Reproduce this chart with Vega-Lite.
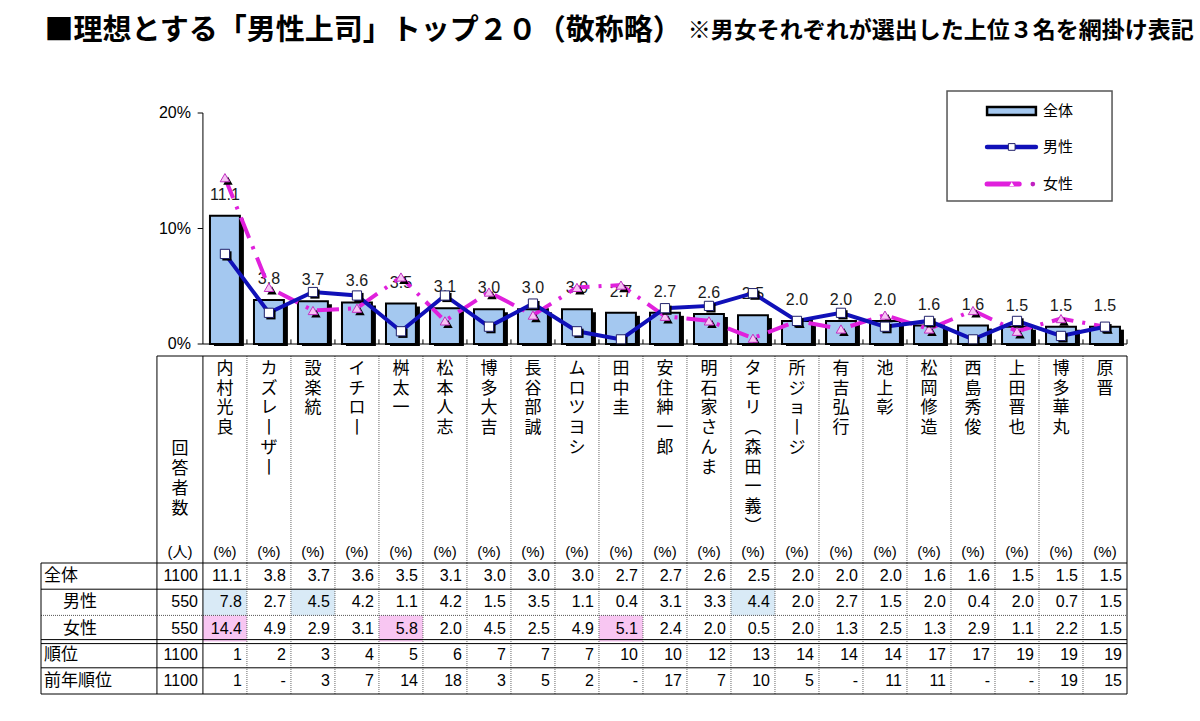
{
  "$schema": "https://vega.github.io/schema/vega-lite/v6.json",
  "background": "white",
  "padding": {"left": 40, "top": 16, "right": 5, "bottom": 5},
  "config": {
    "view": {"stroke": null},
    "font": "Liberation Sans, Noto Sans CJK JP",
    "text": {"color": "#000000"}
  },
  "datasets": {
    "people": [
      {"氏名": "内村光良", "全体": 11.1, "男性": 7.8, "女性": 14.4, "順位": 1, "前年順位": 1},
      {"氏名": "カズレーザー", "全体": 3.8, "男性": 2.7, "女性": 4.9, "順位": 2, "前年順位": null},
      {"氏名": "設楽統", "全体": 3.7, "男性": 4.5, "女性": 2.9, "順位": 3, "前年順位": 3},
      {"氏名": "イチロー", "全体": 3.6, "男性": 4.2, "女性": 3.1, "順位": 4, "前年順位": 7},
      {"氏名": "桝太一", "全体": 3.5, "男性": 1.1, "女性": 5.8, "順位": 5, "前年順位": 14},
      {"氏名": "松本人志", "全体": 3.1, "男性": 4.2, "女性": 2.0, "順位": 6, "前年順位": 18},
      {"氏名": "博多大吉", "全体": 3.0, "男性": 1.5, "女性": 4.5, "順位": 7, "前年順位": 3},
      {"氏名": "長谷部誠", "全体": 3.0, "男性": 3.5, "女性": 2.5, "順位": 7, "前年順位": 5},
      {"氏名": "ムロツヨシ", "全体": 3.0, "男性": 1.1, "女性": 4.9, "順位": 7, "前年順位": 2},
      {"氏名": "田中圭", "全体": 2.7, "男性": 0.4, "女性": 5.1, "順位": 10, "前年順位": null},
      {"氏名": "安住紳一郎", "全体": 2.7, "男性": 3.1, "女性": 2.4, "順位": 10, "前年順位": 17},
      {"氏名": "明石家さんま", "全体": 2.6, "男性": 3.3, "女性": 2.0, "順位": 12, "前年順位": 7},
      {"氏名": "タモリ（森田一義）", "全体": 2.5, "男性": 4.4, "女性": 0.5, "順位": 13, "前年順位": 10},
      {"氏名": "所ジョージ", "全体": 2.0, "男性": 2.0, "女性": 2.0, "順位": 14, "前年順位": 5},
      {"氏名": "有吉弘行", "全体": 2.0, "男性": 2.7, "女性": 1.3, "順位": 14, "前年順位": null},
      {"氏名": "池上彰", "全体": 2.0, "男性": 1.5, "女性": 2.5, "順位": 14, "前年順位": 11},
      {"氏名": "松岡修造", "全体": 1.6, "男性": 2.0, "女性": 1.3, "順位": 17, "前年順位": 11},
      {"氏名": "西島秀俊", "全体": 1.6, "男性": 0.4, "女性": 2.9, "順位": 17, "前年順位": null},
      {"氏名": "上田晋也", "全体": 1.5, "男性": 2.0, "女性": 1.1, "順位": 19, "前年順位": null},
      {"氏名": "博多華丸", "全体": 1.5, "男性": 0.7, "女性": 2.2, "順位": 19, "前年順位": 19},
      {"氏名": "原晋", "全体": 1.5, "男性": 1.5, "女性": 1.5, "順位": 19, "前年順位": 15}
    ],
    "rows": [
      {"項目": "全体", "回答者数": 1100},
      {"項目": "男性", "回答者数": 550},
      {"項目": "女性", "回答者数": 550},
      {"項目": "順位", "回答者数": 1100},
      {"項目": "前年順位", "回答者数": 1100}
    ],
    "yticks": [{"v": 0}, {"v": 10}, {"v": 20}]
  },
  "bounds": "flush",
  "spacing": 12,
  "vconcat": [
    {
      "width": 1086,
      "height": 231,
      "layer": [
        {
          "data": {"name": "people"},
          "transform": [
            {"window": [{"op": "row_number", "as": "n"}]},
            {"calculate": "datum.n - 0.5", "as": "xc"},
            {"calculate": "datum.n - 0.84", "as": "xb0"},
            {"calculate": "datum.n - 0.16", "as": "xb1"}
          ],
          "layer": [
            {
              "mark": {"type": "bar", "fill": "#000000", "xOffset": 4, "x2Offset": 4, "yOffset": 3, "y2Offset": 2},
              "encoding": {
                "x": {"field": "xb0", "type": "quantitative", "scale": {"domain": [-3.68, 21], "nice": false, "zero": false}, "axis": null},
                "x2": {"field": "xb1"},
                "y": {"field": "全体", "type": "quantitative", "scale": {"domain": [0, 20], "nice": false, "zero": false}, "axis": null},
                "y2": {"datum": 0}
              }
            },
            {
              "mark": {"type": "bar", "fill": "#a4c8f0", "stroke": "#000000", "strokeWidth": 2},
              "encoding": {
                "x": {"field": "xb0", "type": "quantitative", "axis": null},
                "x2": {"field": "xb1"},
                "y": {"field": "全体", "type": "quantitative", "axis": null},
                "y2": {"datum": 0}
              }
            },
            {
              "mark": {"type": "text", "fontSize": 16, "dy": -21, "color": "#1a1a1a"},
              "encoding": {
                "x": {"field": "xc", "type": "quantitative", "axis": null},
                "y": {"field": "全体", "type": "quantitative", "axis": null},
                "text": {"field": "全体", "type": "quantitative", "format": ".1f"}
              }
            },
            {
              "mark": {"type": "line", "stroke": "#e020dc", "strokeWidth": 4, "strokeDash": [22, 9, 3, 9]},
              "encoding": {
                "x": {"field": "xc", "type": "quantitative", "axis": null},
                "y": {"field": "女性", "type": "quantitative", "axis": null}
              }
            },
            {
              "mark": {"type": "point", "shape": "triangle-up", "filled": true, "fill": "#000000", "size": 90, "xOffset": 3, "yOffset": 3, "opacity": 1},
              "encoding": {
                "x": {"field": "xc", "type": "quantitative", "axis": null},
                "y": {"field": "女性", "type": "quantitative", "axis": null}
              }
            },
            {
              "mark": {"type": "point", "shape": "triangle-up", "filled": true, "fill": "#f6c4f4", "stroke": "#c030c0", "strokeWidth": 1, "size": 90, "opacity": 1},
              "encoding": {
                "x": {"field": "xc", "type": "quantitative", "axis": null},
                "y": {"field": "女性", "type": "quantitative", "axis": null}
              }
            },
            {
              "mark": {"type": "line", "stroke": "#1010b8", "strokeWidth": 4},
              "encoding": {
                "x": {"field": "xc", "type": "quantitative", "axis": null},
                "y": {"field": "男性", "type": "quantitative", "axis": null}
              }
            },
            {
              "mark": {"type": "point", "shape": "square", "filled": true, "fill": "#000000", "size": 85, "xOffset": 2, "yOffset": 2, "opacity": 1},
              "encoding": {
                "x": {"field": "xc", "type": "quantitative", "axis": null},
                "y": {"field": "男性", "type": "quantitative", "axis": null}
              }
            },
            {
              "mark": {"type": "point", "shape": "square", "filled": true, "fill": "#ffffff", "stroke": "#20206a", "strokeWidth": 1, "size": 85, "opacity": 1},
              "encoding": {
                "x": {"field": "xc", "type": "quantitative", "axis": null},
                "y": {"field": "男性", "type": "quantitative", "axis": null}
              }
            },
            {
              "mark": {"type": "rule", "color": "#000000", "strokeWidth": 1},
              "encoding": {
                "x": {"field": "n", "type": "quantitative", "axis": null},
                "y": {"datum": 0, "axis": null},
                "y2": {"datum": 0.4}
              }
            }
          ]
        },
        {
          "data": {"name": "yticks"},
          "transform": [{"calculate": "datum.v + '%'", "as": "lab"}],
          "layer": [
            {
              "mark": {"type": "rule", "color": "#000000", "strokeWidth": 1},
              "encoding": {"x": {"datum": -0.12, "axis": null}, "x2": {"datum": 0}, "y": {"field": "v", "type": "quantitative", "axis": null}}
            },
            {
              "mark": {"type": "text", "align": "right", "baseline": "middle", "dx": -12, "fontSize": 16},
              "encoding": {"x": {"datum": 0, "axis": null}, "y": {"field": "v", "type": "quantitative", "axis": null}, "text": {"field": "lab"}}
            }
          ]
        },
        {
          "data": {"values": [{}]},
          "layer": [
            {
              "mark": {"type": "rule", "color": "#000000", "strokeWidth": 1},
              "encoding": {"x": {"datum": 0, "axis": null}, "y": {"datum": 0, "axis": null}, "y2": {"datum": 20}}
            },
            {
              "mark": {"type": "rule", "color": "#000000", "strokeWidth": 1},
              "encoding": {"x": {"datum": 0, "axis": null}, "x2": {"datum": 21}, "y": {"datum": 0, "axis": null}}
            },
            {
              "mark": {"type": "rect", "fill": "#ffffff", "stroke": "#555555", "strokeWidth": 1.5},
              "encoding": {"x": {"datum": 16.91, "axis": null}, "x2": {"datum": 20.66}, "y": {"datum": 21.9, "axis": null}, "y2": {"datum": 12.38}}
            },
            {
              "mark": {"type": "rect", "fill": "#a4c8f0", "stroke": "#000000", "strokeWidth": 2.5},
              "encoding": {"x": {"datum": 17.82, "axis": null}, "x2": {"datum": 18.93}, "y": {"datum": 20.52, "axis": null}, "y2": {"datum": 19.83}}
            },
            {
              "mark": {"type": "rule", "color": "#1010b8", "strokeWidth": 4.5, "strokeCap": "round"},
              "encoding": {"x": {"datum": 17.82, "axis": null}, "x2": {"datum": 18.93}, "y": {"datum": 17.06, "axis": null}}
            },
            {
              "mark": {"type": "point", "shape": "square", "filled": true, "fill": "#ffffff", "stroke": "#20206a", "strokeWidth": 1, "size": 45, "opacity": 1},
              "encoding": {"x": {"datum": 18.38, "axis": null}, "y": {"datum": 17.06, "axis": null}}
            },
            {
              "mark": {"type": "rule", "color": "#e020dc", "strokeWidth": 5, "strokeCap": "round"},
              "encoding": {"x": {"datum": 17.82, "axis": null}, "x2": {"datum": 18.55}, "y": {"datum": 13.85, "axis": null}}
            },
            {
              "mark": {"type": "point", "shape": "triangle-up", "filled": true, "fill": "#ffffff", "size": 22, "opacity": 1},
              "encoding": {"x": {"datum": 18.38, "axis": null}, "y": {"datum": 13.85, "axis": null}}
            },
            {
              "mark": {"type": "point", "shape": "circle", "filled": true, "fill": "#c020c0", "size": 22, "opacity": 1},
              "encoding": {"x": {"datum": 18.86, "axis": null}, "y": {"datum": 13.85, "axis": null}}
            },
            {
              "mark": {"type": "text", "align": "left", "baseline": "middle", "fontSize": 15, "font": "Noto Sans CJK JP"},
              "encoding": {"x": {"datum": 19.09, "axis": null}, "y": {"datum": 20.17, "axis": null}, "text": {"value": "全体"}}
            },
            {
              "mark": {"type": "text", "align": "left", "baseline": "middle", "fontSize": 15, "font": "Noto Sans CJK JP"},
              "encoding": {"x": {"datum": 19.09, "axis": null}, "y": {"datum": 17.06, "axis": null}, "text": {"value": "男性"}}
            },
            {
              "mark": {"type": "text", "align": "left", "baseline": "middle", "fontSize": 15, "font": "Noto Sans CJK JP"},
              "encoding": {"x": {"datum": 19.09, "axis": null}, "y": {"datum": 13.85, "axis": null}, "text": {"value": "女性"}}
            },
            {
              "mark": {"type": "text", "align": "left", "baseline": "middle", "fontSize": 29, "fontWeight": "bold", "font": "Noto Sans CJK JP"},
              "encoding": {"x": {"datum": -3.6, "axis": null}, "y": {"datum": 27.1, "axis": null}, "text": {"value": "■理想とする「男性上司」トップ２０（敬称略）"}}
            },
            {
              "mark": {"type": "text", "align": "left", "baseline": "middle", "fontSize": 23, "fontWeight": "bold", "font": "Noto Sans CJK JP"},
              "encoding": {"x": {"datum": 11.02, "axis": null}, "y": {"datum": 27.1, "axis": null}, "text": {"value": "※男女それぞれが選出した上位３名を網掛け表記"}}
            }
          ]
        }
      ]
    },
    {
      "bounds": "flush",
      "spacing": 0,
      "vconcat": [
        {
          "width": 1086,
          "height": 207,
          "layer": [
            {
              "data": {"name": "people"},
              "transform": [
                {"window": [{"op": "row_number", "as": "n"}]},
                {"calculate": "datum.n - 0.5", "as": "xc"},
                {"calculate": "split(replace(replace(replace(datum['氏名'], regexp('ー', 'g'), '丨'), '（', '︵'), '）', '︶'), '')", "as": "chars"}
              ],
              "layer": [
                {
                  "mark": {"type": "text", "baseline": "top", "fontSize": 17, "lineHeight": 19.7, "dy": 5, "font": "Noto Sans CJK JP", "color": "#000000"},
                  "encoding": {
                    "x": {"field": "xc", "type": "quantitative", "scale": {"domain": [-3.68, 21], "nice": false, "zero": false}, "axis": null},
                    "y": {"datum": 1, "scale": {"domain": [0, 1], "nice": false, "zero": false}, "axis": null},
                    "text": {"field": "chars"}
                  }
                },
                {
                  "mark": {"type": "text", "baseline": "bottom", "fontSize": 15, "dy": -3},
                  "encoding": {
                    "x": {"field": "xc", "type": "quantitative", "axis": null},
                    "y": {"datum": 0, "axis": null},
                    "text": {"value": "(%)"}
                  }
                },
                {
                  "transform": [{"filter": "datum.n < 21"}],
                  "mark": {"type": "rule", "color": "#666666", "strokeWidth": 1, "strokeDash": [1, 1]},
                  "encoding": {"x": {"field": "n", "type": "quantitative", "axis": null}}
                }
              ]
            },
            {
              "data": {"values": [{"t": "回答者数"}]},
              "transform": [{"calculate": "split(datum.t, '')", "as": "c"}],
              "layer": [
                {
                  "mark": {"type": "text", "baseline": "middle", "fontSize": 17, "lineHeight": 20, "font": "Noto Sans CJK JP"},
                  "encoding": {"x": {"datum": -0.52, "axis": null}, "y": {"datum": 0.55, "axis": null}, "text": {"field": "c"}}
                },
                {
                  "mark": {"type": "text", "baseline": "bottom", "fontSize": 15, "dy": -3},
                  "encoding": {"x": {"datum": -0.52, "axis": null}, "y": {"datum": 0, "axis": null}, "text": {"value": "(人)"}}
                },
                {
                  "mark": {"type": "rule", "color": "#000000", "strokeWidth": 1},
                  "encoding": {"x": {"datum": -1.045, "axis": null}, "x2": {"datum": 21}, "y": {"datum": 1, "axis": null}}
                },
                {"mark": {"type": "rule", "color": "#000000", "strokeWidth": 1}, "encoding": {"x": {"datum": -1.045, "axis": null}}},
                {"mark": {"type": "rule", "color": "#000000", "strokeWidth": 1}, "encoding": {"x": {"datum": 0, "axis": null}}},
                {"mark": {"type": "rule", "color": "#000000", "strokeWidth": 1}, "encoding": {"x": {"datum": 21, "axis": null}}}
              ]
            }
          ]
        },
        {
          "width": 1086,
          "height": 131,
          "layer": [
            {
              "data": {"name": "people"},
              "transform": [{"window": [{"op": "row_number", "as": "n"}]}, {"calculate": "datum.n - 1", "as": "n0"}],
              "layer": [
                {
                  "transform": [
                    {"window": [{"op": "rank", "as": "rk"}], "sort": [{"field": "男性", "order": "descending"}]},
                    {"filter": "datum.rk <= 3"},
                    {"calculate": "'男性'", "as": "row"}
                  ],
                  "mark": {"type": "rect", "fill": "#d9eaf6"},
                  "encoding": {
                    "x": {"field": "n0", "type": "quantitative", "scale": {"domain": [-3.68, 21], "nice": false, "zero": false}, "axis": null},
                    "x2": {"field": "n"},
                    "y": {"field": "row", "type": "nominal", "scale": {"domain": ["全体", "男性", "女性", "順位", "前年順位"], "paddingInner": 0, "paddingOuter": 0}, "axis": null}
                  }
                },
                {
                  "transform": [
                    {"window": [{"op": "rank", "as": "rk"}], "sort": [{"field": "女性", "order": "descending"}]},
                    {"filter": "datum.rk <= 3"},
                    {"calculate": "'女性'", "as": "row"}
                  ],
                  "mark": {"type": "rect", "fill": "#f8c6f2"},
                  "encoding": {
                    "x": {"field": "n0", "type": "quantitative", "axis": null},
                    "x2": {"field": "n"},
                    "y": {"field": "row", "type": "nominal", "axis": null}
                  }
                },
                {
                  "transform": [{"filter": "datum.n < 21"}],
                  "mark": {"type": "rule", "color": "#666666", "strokeWidth": 1, "strokeDash": [1, 1]},
                  "encoding": {"x": {"field": "n", "type": "quantitative", "axis": null}}
                },
                {
                  "transform": [
                    {"fold": ["全体", "男性", "女性", "順位", "前年順位"], "as": ["row", "v"]},
                    {"calculate": "datum.v == null ? '-' : ((datum.row == '順位' || datum.row == '前年順位') ? format(datum.v, 'd') : format(datum.v, '.1f'))", "as": "label"}
                  ],
                  "mark": {"type": "text", "align": "right", "baseline": "middle", "dx": -5, "fontSize": 16},
                  "encoding": {
                    "x": {"field": "n", "type": "quantitative", "axis": null},
                    "y": {"field": "row", "type": "nominal", "axis": null},
                    "text": {"field": "label"}
                  }
                }
              ]
            },
            {
              "data": {"name": "rows"},
              "layer": [
                {
                  "transform": [{"filter": "datum['項目'] != '男性' && datum['項目'] != '女性'"}],
                  "mark": {"type": "text", "align": "left", "baseline": "middle", "dx": 3, "fontSize": 17, "font": "Noto Sans CJK JP"},
                  "encoding": {"x": {"datum": -3.68, "axis": null}, "y": {"field": "項目", "type": "nominal", "axis": null}, "text": {"field": "項目"}}
                },
                {
                  "transform": [{"filter": "datum['項目'] == '男性' || datum['項目'] == '女性'"}],
                  "mark": {"type": "text", "align": "left", "baseline": "middle", "dx": 22, "fontSize": 17, "font": "Noto Sans CJK JP"},
                  "encoding": {"x": {"datum": -3.68, "axis": null}, "y": {"field": "項目", "type": "nominal", "axis": null}, "text": {"field": "項目"}}
                },
                {
                  "mark": {"type": "text", "align": "right", "baseline": "middle", "dx": -5, "fontSize": 16},
                  "encoding": {"x": {"datum": 0, "axis": null}, "y": {"field": "項目", "type": "nominal", "axis": null}, "text": {"field": "回答者数"}}
                },
                {
                  "transform": [{"filter": "datum['項目'] == '全体' || datum['項目'] == '男性' || datum['項目'] == '前年順位'"}],
                  "mark": {"type": "rule", "color": "#000000", "strokeWidth": 1},
                  "encoding": {"x": {"datum": -3.68, "axis": null}, "x2": {"datum": 21}, "y": {"field": "項目", "type": "nominal", "bandPosition": 0, "axis": null}}
                },
                {
                  "transform": [{"filter": "datum['項目'] == '女性'"}],
                  "mark": {"type": "rule", "color": "#555555", "strokeWidth": 1, "strokeDash": [1, 1]},
                  "encoding": {"x": {"datum": -3.68, "axis": null}, "x2": {"datum": 21}, "y": {"field": "項目", "type": "nominal", "bandPosition": 0, "axis": null}}
                },
                {
                  "transform": [{"filter": "datum['項目'] == '順位'"}],
                  "mark": {"type": "rule", "color": "#000000", "strokeWidth": 1, "yOffset": -2, "y2Offset": -2},
                  "encoding": {"x": {"datum": -3.68, "axis": null}, "x2": {"datum": 21}, "y": {"field": "項目", "type": "nominal", "bandPosition": 0, "axis": null}}
                },
                {
                  "transform": [{"filter": "datum['項目'] == '順位'"}],
                  "mark": {"type": "rule", "color": "#000000", "strokeWidth": 1, "yOffset": 2, "y2Offset": 2},
                  "encoding": {"x": {"datum": -3.68, "axis": null}, "x2": {"datum": 21}, "y": {"field": "項目", "type": "nominal", "bandPosition": 0, "axis": null}}
                },
                {
                  "transform": [{"filter": "datum['項目'] == '前年順位'"}],
                  "mark": {"type": "rule", "color": "#000000", "strokeWidth": 1},
                  "encoding": {"x": {"datum": -3.68, "axis": null}, "x2": {"datum": 21}, "y": {"field": "項目", "type": "nominal", "bandPosition": 1, "axis": null}}
                }
              ]
            },
            {
              "data": {"values": [{}]},
              "layer": [
                {"mark": {"type": "rule", "color": "#000000", "strokeWidth": 1}, "encoding": {"x": {"datum": -3.68, "axis": null}}},
                {"mark": {"type": "rule", "color": "#000000", "strokeWidth": 1}, "encoding": {"x": {"datum": -1.045, "axis": null}}},
                {"mark": {"type": "rule", "color": "#000000", "strokeWidth": 1}, "encoding": {"x": {"datum": 0, "axis": null}}},
                {"mark": {"type": "rule", "color": "#000000", "strokeWidth": 1}, "encoding": {"x": {"datum": 21, "axis": null}}}
              ]
            }
          ]
        }
      ]
    }
  ]
}
